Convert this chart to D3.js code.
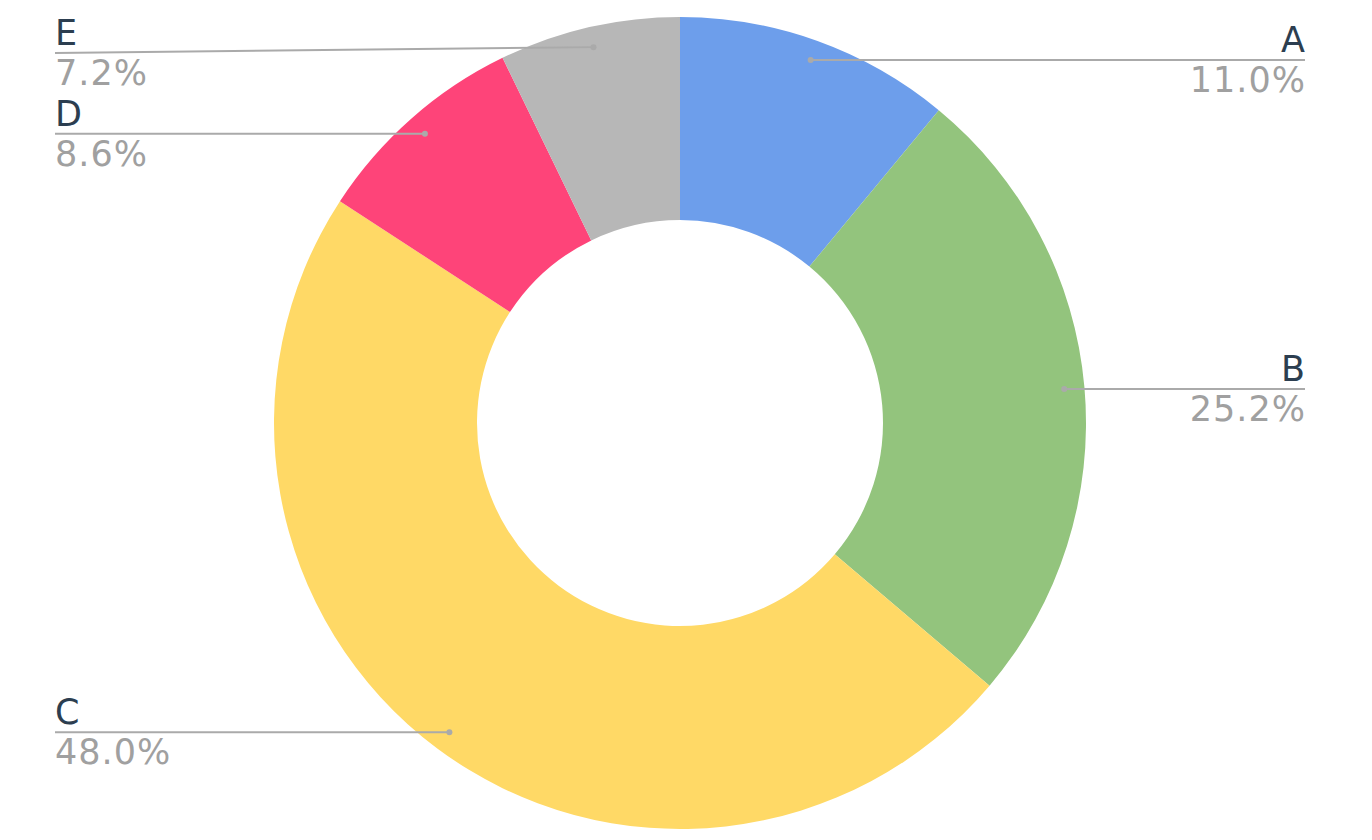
<!DOCTYPE html>
<html lang="en">
<head>
<meta charset="utf-8">
<title>Donut</title>
<script src="https://cdn.jsdelivr.net/npm/d3@7"></script>
<style>
  body { margin: 0; background: #fff; }
  text { font-family: "DejaVu Sans", Verdana, sans-serif; }
</style>
</head>
<body>
<script>
// data
var labels = ["A", "B", "C", "D", "E"];
var shares = [11.0, 25.2, 48.0, 8.6, 7.2];
var colors = ["#6d9eeb", "#93c47d", "#ffd966", "#fe4479", "#b7b7b7"];

var w = 1372, h = 840;
var cx = 680, cy = 423;
var outerR = 406, innerR = 203;
var fontSize = 35;

var svg = d3.select("body").append("svg").attr("width", w).attr("height", h);

var pie = d3.pie().sort(null).value(function(d){ return d; });
var arcs = pie(shares);

var arc = d3.arc().innerRadius(innerR).outerRadius(outerR);
var anchorArc = d3.arc().innerRadius(outerR * 0.95).outerRadius(outerR * 0.95);

var g = svg.append("g").attr("transform", "translate(" + cx + "," + cy + ")");

g.selectAll("path.slice").data(arcs).enter().append("path")
  .attr("class", "slice")
  .attr("d", arc)
  .attr("fill", function(d, i){ return colors[i]; });

// label lines + text
var leftX = 55 - cx, rightX = 1305 - cx;
var minY = 53 - cy;

arcs.forEach(function(d, i){
  var p = anchorArc.centroid(d);
  var mid = (d.startAngle + d.endAngle) / 2;
  var right = mid < Math.PI;
  var ly = Math.max(p[1], minY);
  var ex = right ? rightX : leftX;

  g.append("line")
    .attr("x1", p[0]).attr("y1", p[1])
    .attr("x2", ex).attr("y2", ly)
    .attr("stroke", "#aaaaaa").attr("stroke-width", 2);
  g.append("circle")
    .attr("cx", p[0]).attr("cy", p[1]).attr("r", 3)
    .attr("fill", "#aaaaaa");

  g.append("text")
    .attr("x", ex).attr("y", ly - 8)
    .attr("text-anchor", right ? "end" : "start")
    .attr("font-size", fontSize)
    .attr("fill", "#2c3e50")
    .text(labels[i]);
  g.append("text")
    .attr("x", right ? ex + 1 : ex).attr("y", ly + 32)
    .attr("text-anchor", right ? "end" : "start")
    .attr("font-size", fontSize)
    .attr("letter-spacing", "1px")
    .attr("fill", "#a0a0a0")
    .text(d3.format(".1f")(shares[i]) + "%");
});
</script>
</body>
</html>
